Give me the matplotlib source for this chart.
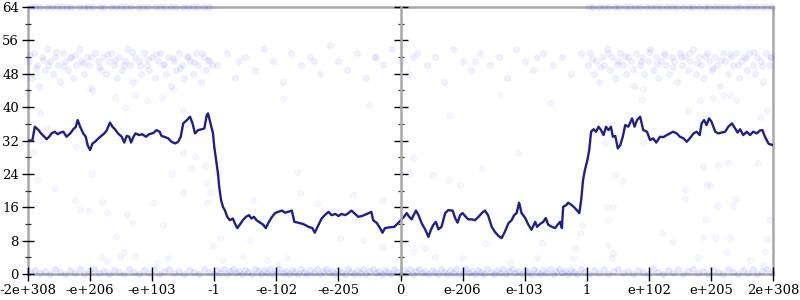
import matplotlib
matplotlib.use("Agg")
import matplotlib.pyplot as plt
from matplotlib.ticker import MultipleLocator

# ---- axis labels ----
x_tick_labels = ["-2e+308", "-e+206", "-e+103", "-1", "-e-102", "-e-205", "0",
                 "e-206", "e-103", "1", "e+102", "e+205", "2e+308"]
y_ticks = [0, 8, 16, 24, 32, 40, 48, 56, 64]

# ---- line series (x in tick-slot units, y value) ----
line_x = [0.00, 0.07, 0.11, 0.17, 0.21, 0.25, 0.30, 0.34, 0.38, 0.43, 0.48, 0.52, 0.57, 0.62,
          0.68, 0.73, 0.77, 0.80, 0.84, 0.89, 0.93, 0.96, 1.00, 1.04, 1.08, 1.12, 1.18, 1.23,
          1.27, 1.32, 1.36, 1.40, 1.45, 1.51, 1.55, 1.59, 1.63, 1.66, 1.70, 1.73, 1.79, 1.84,
          1.90, 1.95, 2.02, 2.07, 2.12, 2.15, 2.21, 2.26, 2.31, 2.37, 2.42, 2.46, 2.50, 2.56,
          2.61, 2.65, 2.69, 2.74, 2.80, 2.84, 2.88, 2.90, 2.94, 2.98, 3.00, 3.03, 3.06, 3.08,
          3.11, 3.14, 3.17, 3.21, 3.25, 3.30, 3.33, 3.37, 3.42, 3.46, 3.51, 3.56, 3.60, 3.64,
          3.68, 3.74, 3.79, 3.83, 3.87, 3.93, 3.98, 4.03, 4.09, 4.14, 4.19, 4.25, 4.29, 4.35,
          4.43, 4.52, 4.58, 4.62, 4.67, 4.73, 4.78, 4.84, 4.89, 4.95, 5.00, 5.05, 5.11, 5.16,
          5.21, 5.27, 5.32, 5.38, 5.46, 5.53, 5.56, 5.62, 5.67, 5.71, 5.75, 5.83, 5.90, 5.96,
          6.02, 6.05, 6.10, 6.14, 6.18, 6.21, 6.25, 6.29, 6.34, 6.40, 6.45, 6.49, 6.53, 6.57,
          6.61, 6.66, 6.72, 6.77, 6.84, 6.88, 6.92, 6.96, 7.00, 7.04, 7.09, 7.15, 7.20, 7.25,
          7.31, 7.36, 7.41, 7.47, 7.52, 7.58, 7.63, 7.68, 7.74, 7.79, 7.83, 7.87, 7.91, 7.95,
          8.01, 8.06, 8.11, 8.17, 8.20, 8.25, 8.30, 8.34, 8.38, 8.44, 8.49, 8.53, 8.57, 8.60,
          8.62, 8.67, 8.70, 8.76, 8.81, 8.88, 8.91, 8.94, 8.97, 9.01, 9.04, 9.07, 9.11, 9.15,
          9.19, 9.23, 9.27, 9.31, 9.35, 9.39, 9.42, 9.46, 9.50, 9.54, 9.58, 9.62, 9.67, 9.73,
          9.77, 9.81, 9.86, 9.91, 9.97, 10.02, 10.07, 10.12, 10.18, 10.23, 10.29, 10.34, 10.39,
          10.45, 10.50, 10.56, 10.61, 10.66, 10.72, 10.77, 10.82, 10.85, 10.89, 10.93, 10.97,
          11.01, 11.07, 11.12, 11.17, 11.23, 11.28, 11.34, 11.39, 11.43, 11.47, 11.52, 11.58,
          11.63, 11.68, 11.74, 11.79, 11.83, 11.87, 11.93, 12.00]
line_y = [32.0, 32.0, 35.3, 34.5, 33.7, 33.1, 32.3, 32.9, 33.7, 34.1, 33.5, 33.9, 34.1, 32.9,
          33.7, 34.7, 35.3, 36.9, 35.3, 33.7, 32.9, 30.9, 29.7, 31.3, 31.7, 32.3, 33.1, 33.7,
          34.5, 36.3, 35.3, 34.7, 33.7, 32.9, 31.5, 33.1, 32.9, 31.5, 32.9, 33.7, 33.3, 33.5,
          32.9, 33.5, 33.8, 34.5, 34.1, 33.1, 32.8, 32.5, 31.7, 31.3, 31.7, 32.9, 36.1, 36.9,
          37.7, 36.1, 33.7, 34.5, 34.7, 34.9, 38.1, 38.5, 36.1, 33.7, 30.5, 27.3, 24.1, 20.9,
          17.7, 16.1, 15.3, 13.7, 12.9, 13.3, 12.2, 11.0, 12.0, 12.9, 13.7, 14.1, 13.3, 13.7,
          12.9, 12.3, 11.8, 11.0, 12.2, 13.7, 14.6, 14.9, 15.2, 14.7, 14.9, 15.2, 12.5, 12.3,
          12.0, 11.3, 11.0, 9.9, 11.5, 13.3, 14.1, 14.9, 14.1, 14.4, 13.9, 14.4, 14.1, 14.6,
          15.2, 14.4, 13.7, 13.9, 14.4, 14.9, 12.9, 12.2, 11.0, 9.9, 11.0, 11.2, 11.3, 12.2,
          13.1, 13.6, 14.6, 13.7, 13.1, 14.1, 15.2, 14.1, 12.2, 10.6, 8.9, 10.6, 11.8, 12.5,
          10.7, 11.3, 14.6, 15.3, 15.2, 13.4, 12.3, 14.1, 14.6, 13.9, 13.1, 13.1, 12.9, 13.6,
          14.6, 15.2, 14.1, 11.3, 10.1, 9.1, 8.6, 10.1, 12.2, 12.9, 14.1, 14.6, 17.1, 14.6,
          13.4, 11.8, 10.6, 12.5, 11.3, 12.0, 12.5, 13.4, 11.8, 11.3, 11.0, 11.8, 12.5, 11.0,
          16.1, 16.5, 17.1, 16.5, 15.8, 14.6, 17.7, 22.5, 24.9, 27.3, 29.7, 34.1, 34.7, 34.1,
          35.3, 34.5, 33.3, 35.3, 34.5, 35.3, 32.9, 33.1, 30.1, 30.9, 32.9, 35.7, 35.3, 37.3,
          35.3, 36.9, 37.7, 34.5, 34.1, 32.1, 32.5, 31.5, 32.9, 32.8, 33.3, 33.7, 34.1,
          33.7, 32.9, 32.5, 31.7, 32.5, 33.7, 34.1, 33.3, 36.1, 36.9, 35.7, 37.3,
          36.5, 34.1, 33.7, 33.9, 34.1, 35.3, 36.1, 34.9, 33.9, 34.7, 33.3, 34.1,
          33.3, 34.1, 33.7, 34.4, 34.5, 32.9, 31.2, 30.9]

# ---- faint sample points ----
top_points = [(0.05, 64), (0.12, 64), (0.2, 64), (0.31, 64), (0.38, 64), (0.47, 64), (0.55, 64),
              (0.63, 64), (0.7, 64), (0.82, 64), (0.9, 64), (0.97, 64), (1.05, 64), (1.16, 64),
              (1.22, 64), (1.33, 64), (1.41, 64), (1.5, 64), (1.58, 64), (1.66, 64), (1.77, 64),
              (1.85, 64), (1.93, 64), (2.04, 64), (2.12, 64), (2.2, 64), (2.31, 64), (2.38, 64),
              (2.49, 64), (2.57, 64), (2.66, 64), (2.74, 64), (2.83, 64), (2.92, 64),
              (9.03, 64), (9.1, 64), (9.2, 64), (9.27, 64), (9.36, 64), (9.45, 64), (9.52, 64),
              (9.61, 64), (9.7, 64), (9.78, 64), (9.86, 64), (9.95, 64), (10.03, 64), (10.12, 64),
              (10.2, 64), (10.3, 64), (10.38, 64), (10.45, 64), (10.55, 64), (10.64, 64),
              (10.71, 64), (10.8, 64), (10.9, 64), (10.97, 64), (11.06, 64), (11.14, 64),
              (11.22, 64), (11.31, 64), (11.4, 64), (11.47, 64), (11.56, 64), (11.65, 64),
              (11.73, 64), (11.82, 64), (11.9, 64), (11.98, 64)]

band_points = [
    (0.02, 51), (0.07, 47), (0.10, 53), (0.15, 50), (0.18, 45), (0.22, 52), (0.27, 49), (0.30, 54),
    (0.35, 51), (0.40, 48), (0.43, 52), (0.48, 50), (0.52, 46), (0.56, 53), (0.60, 51), (0.65, 49),
    (0.69, 52), (0.73, 47), (0.78, 50), (0.82, 54), (0.86, 51), (0.91, 48), (0.95, 52), (0.99, 50),
    (1.03, 44), (1.08, 53), (1.12, 51), (1.17, 49), (1.21, 52), (1.25, 48), (1.30, 51), (1.34, 53),
    (1.38, 50), (1.43, 47), (1.47, 52), (1.52, 49), (1.56, 51), (1.60, 54), (1.65, 50), (1.69, 46),
    (1.73, 52), (1.78, 51), (1.82, 48), (1.87, 53), (1.91, 50), (1.95, 49), (2.00, 52), (2.04, 47),
    (2.09, 51), (2.13, 53), (2.17, 50), (2.22, 48), (2.26, 52), (2.30, 45), (2.35, 51), (2.39, 49),
    (2.43, 53), (2.48, 50), (2.52, 47), (2.56, 52), (2.61, 51), (2.65, 48), (2.70, 53), (2.74, 50),
    (2.78, 46), (2.83, 52), (2.87, 49), (2.92, 51), (2.96, 50),
    (0.04, 52.6), (0.13, 49.4), (0.24, 51.3), (0.33, 50.2), (0.45, 53.1), (0.58, 49.8),
    (0.67, 51.7), (0.76, 52.4), (0.88, 50.6), (1.01, 51.9), (1.14, 49.6), (1.27, 52.8),
    (1.40, 51.2), (1.54, 50.1), (1.67, 53.3), (1.80, 49.9), (1.93, 51.5), (2.06, 52.7),
    (2.19, 50.4), (2.33, 51.8), (2.45, 49.3), (2.58, 52.2), (2.68, 50.8), (2.80, 53.0),
    (2.90, 51.4),
    (9.02, 50), (9.06, 53), (9.11, 48), (9.15, 51), (9.19, 46), (9.24, 52), (9.28, 50), (9.33, 54),
    (9.37, 49), (9.41, 52), (9.46, 47), (9.50, 51), (9.54, 53), (9.59, 50), (9.63, 48), (9.67, 52),
    (9.72, 51), (9.76, 45), (9.80, 53), (9.85, 50), (9.89, 52), (9.93, 48), (9.98, 51), (10.02, 54),
    (10.06, 49), (10.11, 52), (10.15, 47), (10.19, 51), (10.24, 53), (10.28, 50), (10.32, 48),
    (10.37, 52), (10.41, 51), (10.45, 46), (10.50, 53), (10.54, 50), (10.58, 52), (10.63, 49),
    (10.67, 51), (10.71, 54), (10.76, 48), (10.80, 52), (10.84, 50), (10.89, 47), (10.93, 53),
    (10.97, 51), (11.02, 49), (11.06, 52), (11.10, 50), (11.15, 45), (11.19, 53), (11.23, 51),
    (11.28, 48), (11.32, 52), (11.36, 50), (11.41, 53), (11.45, 47), (11.49, 51), (11.54, 52),
    (11.58, 49), (11.62, 53), (11.67, 50), (11.71, 48), (11.75, 52), (11.80, 51), (11.84, 46),
    (11.88, 53), (11.93, 50), (11.97, 52),
    (9.08, 51.6), (9.21, 49.5), (9.35, 52.9), (9.48, 50.3), (9.61, 52.2), (9.74, 49.1),
    (9.87, 51.1), (10.00, 53.2), (10.13, 50.4), (10.26, 52.5), (10.39, 49.7), (10.52, 51.9),
    (10.65, 53.0), (10.78, 50.6), (10.91, 52.3), (11.04, 49.4), (11.17, 51.4), (11.30, 52.8),
    (11.43, 50.2), (11.56, 51.7), (11.69, 53.1), (11.82, 49.8), (11.95, 52.0),
    (3.05, 50), (3.20, 53), (3.34, 47), (3.50, 52), (3.66, 49), (3.80, 54), (3.95, 51), (4.10, 46),
    (4.24, 53), (4.40, 50), (4.55, 52), (4.70, 48), (4.86, 55), (5.00, 51), (5.14, 49), (5.30, 53),
    (5.45, 47), (5.58, 52), (5.72, 50), (5.86, 54), (6.00, 51), (6.12, 48), (6.27, 53), (6.42, 50),
    (6.56, 52), (6.70, 46), (6.85, 54), (7.00, 51), (7.14, 49), (7.28, 53), (7.44, 50), (7.58, 52),
    (7.72, 47), (7.86, 54), (8.00, 51), (8.14, 49), (8.30, 53), (8.45, 50), (8.60, 52), (8.75, 48),
    (8.90, 53), (3.40, 51), (4.60, 51), (5.60, 52), (6.20, 52), (7.20, 51), (8.20, 52),
]

bottom_points = [
    (0.03, 0.4), (0.11, 1.0), (0.19, 0.2), (0.27, 0.8), (0.35, 0.0), (0.43, 1.2), (0.51, 0.5),
    (0.59, 0.1), (0.67, 0.9), (0.75, 0.3), (0.83, 1.1), (0.91, 0.0), (0.99, 0.6), (1.07, 1.3),
    (1.15, 0.2), (1.23, 0.8), (1.31, 0.0), (1.39, 1.0), (1.47, 0.4), (1.55, 0.0), (1.63, 1.2),
    (1.71, 0.5), (1.79, 0.1), (1.87, 0.9), (1.95, 0.3), (2.03, 1.1), (2.11, 0.0), (2.19, 0.7),
    (2.27, 1.3), (2.35, 0.2), (2.43, 0.8), (2.51, 0.0), (2.59, 1.0), (2.67, 0.4), (2.75, 0.0),
    (2.83, 1.2), (2.91, 0.5),
    (3.00, 0.1), (3.05, 0.9), (3.10, 0.3), (3.15, 1.1), (3.20, 0.0), (3.25, 0.7), (3.30, 1.3),
    (3.35, 0.2), (3.40, 0.8), (3.45, 0.0), (3.50, 1.0), (3.55, 0.4), (3.60, 0.0), (3.65, 1.2),
    (3.70, 0.6), (3.75, 0.1), (3.80, 0.9), (3.85, 0.3), (3.90, 1.1), (3.95, 0.0), (4.00, 0.7),
    (4.05, 1.3), (4.10, 0.2), (4.15, 0.8), (4.20, 0.0), (4.25, 1.0), (4.30, 0.4), (4.35, 0.0),
    (4.40, 1.2), (4.45, 0.5), (4.50, 0.1), (4.55, 0.9), (4.60, 0.3), (4.65, 1.1), (4.70, 0.0),
    (4.75, 0.7), (4.80, 1.3), (4.85, 0.2), (4.90, 0.8), (4.95, 0.0), (5.00, 1.0), (5.05, 0.4),
    (5.10, 0.0), (5.15, 1.2), (5.20, 0.5), (5.25, 0.1), (5.30, 0.9), (5.35, 0.3), (5.40, 1.1),
    (5.45, 0.0), (5.50, 0.7), (5.55, 1.3), (5.60, 0.2), (5.65, 0.8), (5.70, 0.0), (5.75, 1.0),
    (5.80, 0.4), (5.85, 0.0), (5.90, 1.2), (5.95, 0.5), (6.00, 0.1), (6.05, 0.9), (6.10, 0.3),
    (6.15, 1.1), (6.20, 0.0), (6.25, 0.7), (6.30, 1.3), (6.35, 0.2), (6.40, 0.8), (6.45, 0.0),
    (6.50, 1.0), (6.55, 0.4), (6.60, 0.0), (6.65, 1.2), (6.70, 0.5), (6.75, 0.1), (6.80, 0.9),
    (6.85, 0.3), (6.90, 1.1), (6.95, 0.0), (7.00, 0.7), (7.05, 1.3), (7.10, 0.2), (7.15, 0.8),
    (7.20, 0.0), (7.25, 1.0), (7.30, 0.4), (7.35, 0.0), (7.40, 1.2), (7.45, 0.5), (7.50, 0.1),
    (7.55, 0.9), (7.60, 0.3), (7.65, 1.1), (7.70, 0.0), (7.75, 0.7), (7.80, 1.3), (7.85, 0.2),
    (7.90, 0.8), (7.95, 0.0), (8.00, 1.0), (8.05, 0.4), (8.10, 0.0), (8.15, 1.2), (8.20, 0.5),
    (8.25, 0.1), (8.30, 0.9), (8.35, 0.3), (8.40, 1.1), (8.45, 0.0), (8.50, 0.7), (8.55, 1.3),
    (8.60, 0.2), (8.65, 0.8), (8.70, 0.0), (8.75, 1.0), (8.80, 0.4), (8.85, 0.0), (8.90, 1.2),
    (8.95, 0.5),
    (9.03, 0.1), (9.11, 0.9), (9.19, 0.3), (9.27, 1.1), (9.35, 0.0), (9.43, 0.7), (9.51, 1.3),
    (9.59, 0.2), (9.67, 0.8), (9.75, 0.0), (9.83, 1.0), (9.91, 0.4), (9.99, 0.0), (10.07, 1.2),
    (10.15, 0.5), (10.23, 0.1), (10.31, 0.9), (10.39, 0.3), (10.47, 1.1), (10.55, 0.0),
    (10.63, 0.7), (10.71, 1.3), (10.79, 0.2), (10.87, 0.8), (10.95, 0.0), (11.03, 1.0),
    (11.11, 0.4), (11.19, 0.0), (11.27, 1.2), (11.35, 0.5), (11.43, 0.1), (11.51, 0.9),
    (11.59, 0.3), (11.67, 1.1), (11.75, 0.0), (11.83, 0.7), (11.91, 1.3), (11.98, 0.2),
]

sparse_points = [
    (0.08, 29.3), (0.15, 22.5), (0.11, 17.0), (0.44, 20.6), (0.76, 17.7), (0.84, 15.3),
    (0.97, 15.1), (1.03, 24.2), (1.19, 17.3), (1.27, 14.9), (1.42, 9.1), (1.59, 14.4),
    (1.68, 12.2), (1.55, 5.3), (1.19, 4.1), (1.27, 3.1), (1.48, 4.1), (1.72, 4.3), (2.01, 17.0),
    (2.17, 11.8), (2.32, 24.2), (2.50, 19.4), (2.63, 25.4), (2.69, 28.3), (2.50, 29.0),
    (2.08, 2.6), (2.26, 3.8), (0.00, 43.4), (0.19, 38.6), (0.31, 35.0), (0.77, 30.5),
    (1.40, 42.2), (1.56, 40.0), (1.72, 42.9), (1.92, 41.7), (2.16, 42.2), (2.34, 44.1),
    (2.50, 39.3), (1.00, 44.6), (2.85, 26.1), (3.06, 24.2), (2.88, 21.8), (2.93, 19.7),
    (2.88, 17.0), (3.62, 17.7), (4.33, 24.5), (4.38, 19.4), (4.66, 17.0), (5.24, 18.9),
    (5.70, 17.7), (5.03, 8.6), (5.40, 8.2), (5.70, 6.5), (3.09, 8.6), (2.98, 6.6), (3.58, 8.2),
    (3.14, 3.4), (3.46, 4.3), (3.85, 3.4), (4.17, 3.8), (4.01, 2.4), (6.20, 28.0), (6.15, 24.2),
    (6.52, 23.7), (6.77, 22.5), (6.96, 21.3), (7.31, 25.4), (7.89, 29.0), (8.33, 12.9),
    (8.28, 7.4), (8.81, 6.2), (8.89, 9.8), (8.92, 11.8), (8.78, 3.8), (6.20, 5.3), (6.56, 4.1),
    (6.99, 3.8), (7.36, 7.4), (7.76, 2.6), (8.20, 3.8), (6.39, 6.2), (9.46, 23.7), (9.59, 22.3),
    (9.33, 16.1), (9.42, 16.1), (9.34, 12.9), (10.21, 9.8), (10.39, 7.7), (10.58, 20.1),
    (10.58, 18.0), (10.87, 25.9), (10.94, 21.3), (10.99, 21.3), (11.12, 26.1), (11.28, 26.6),
    (11.10, 16.5), (10.92, 13.2), (10.87, 8.9), (11.07, 8.9), (11.31, 8.9), (11.39, 18.0),
    (11.36, 16.5), (11.26, 5.3), (11.76, 26.6), (11.90, 8.4), (11.87, 5.3), (11.95, 12.9),
    (9.34, 7.0), (9.42, 5.0), (9.41, 3.8), (10.79, 3.8), (11.63, 3.4), (11.84, 2.2),
    (9.89, 41.7), (10.82, 41.7), (11.03, 42.2), (11.19, 42.9), (11.30, 42.9), (11.40, 41.7),
    (9.90, 44.3), (11.79, 37.6), (11.90, 39.3), (9.30, 31.4), (9.90, 31.4), (10.63, 39.3),
    (4.10, 42.0), (5.50, 40.5), (7.60, 43.0), (8.40, 41.0), (6.80, 38.0),
]

# ---- figure ----
plt.rcParams["font.family"] = ["DejaVu Serif"]
fig = plt.figure(figsize=(8, 3), dpi=100)
ax = fig.add_axes([28 / 800, 1 - 274 / 300, 745 / 800, 267 / 300])

pt_color = "#3030ff"
for pts, a in [(bottom_points, 0.10), (band_points, 0.07), (top_points, 0.10), (sparse_points, 0.045)]:
    xs = [p[0] for p in pts]
    ys = [p[1] for p in pts]
    ax.scatter(xs, ys, s=18, color=pt_color, alpha=a, linewidths=0.6, clip_on=False, zorder=2)

ax.plot(line_x, line_y, color="#202088", lw=1.7, zorder=4, solid_joinstyle="round")

ax.set_xlim(0, 12)
ax.set_ylim(0, 64)
ax.set_xticks(range(len(x_tick_labels)))
ax.set_xticklabels(x_tick_labels)
ax.set_yticks(y_ticks)
ax.yaxis.set_minor_locator(MultipleLocator(4))

spine_gray = "#a8a8a8"
for s in ax.spines.values():
    s.set_color(spine_gray)
    s.set_linewidth(1.8)
    s.set_zorder(1)

ax.tick_params(axis="y", which="major", direction="inout", length=9, width=1.0,
               color="black", left=True, right=True, labelsize=9.5, pad=2)
ax.tick_params(axis="y", which="minor", direction="inout", length=5, width=0.9,
               color="#333333", left=True, right=True)
ax.tick_params(axis="x", which="major", direction="inout", length=10, width=1.0,
               color="black", labelsize=9.5, pad=2)

# centre axis at x = 0 slot
ax2 = ax.twinx()
ax2.set_ylim(0, 64)
ax2.set_yticks(y_ticks)
ax2.yaxis.set_minor_locator(MultipleLocator(4))
for name, s in ax2.spines.items():
    s.set_visible(name == "right")
ax2.spines["right"].set_position(("axes", 0.5))
ax2.spines["right"].set_color(spine_gray)
ax2.spines["right"].set_linewidth(1.8)
ax2.tick_params(axis="y", which="major", direction="inout", length=10, width=1.0,
                color="black", labelright=False)
ax2.tick_params(axis="y", which="minor", direction="inout", length=5, width=0.9,
                color="#333333", labelright=False)

fig.savefig("out.png", dpi=100)
